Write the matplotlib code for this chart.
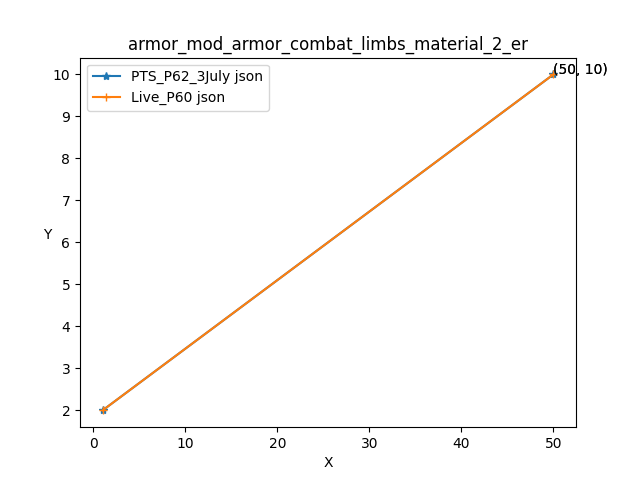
import matplotlib
matplotlib.use("Agg")
import matplotlib.pyplot as plt

x1 = [1, 50]
y1 = [2, 10]
x2 = [1, 50]
y2 = [2, 10]
labels = ["PTS_P62_3July json", "Live_P60 json"]
title = "armor_mod_armor_combat_limbs_material_2_er"

fig, ax = plt.subplots(figsize=(6.4, 4.8), dpi=100)
ax.plot(x1, y1, marker="*", label=labels[0])
ax.annotate(f"({x1[-1]}, {y1[-1]})", (x1[-1], y1[-1]))
ax.plot(x2, y2, marker="+", label=labels[1])
ax.annotate(f"({x2[-1]}, {y2[-1]})", (x2[-1], y2[-1]))
ax.set_title(title)
ax.set_xlabel("X")
ax.set_ylabel("Y", rotation=0)
ax.legend(loc="upper left")
fig.savefig("out.png")
